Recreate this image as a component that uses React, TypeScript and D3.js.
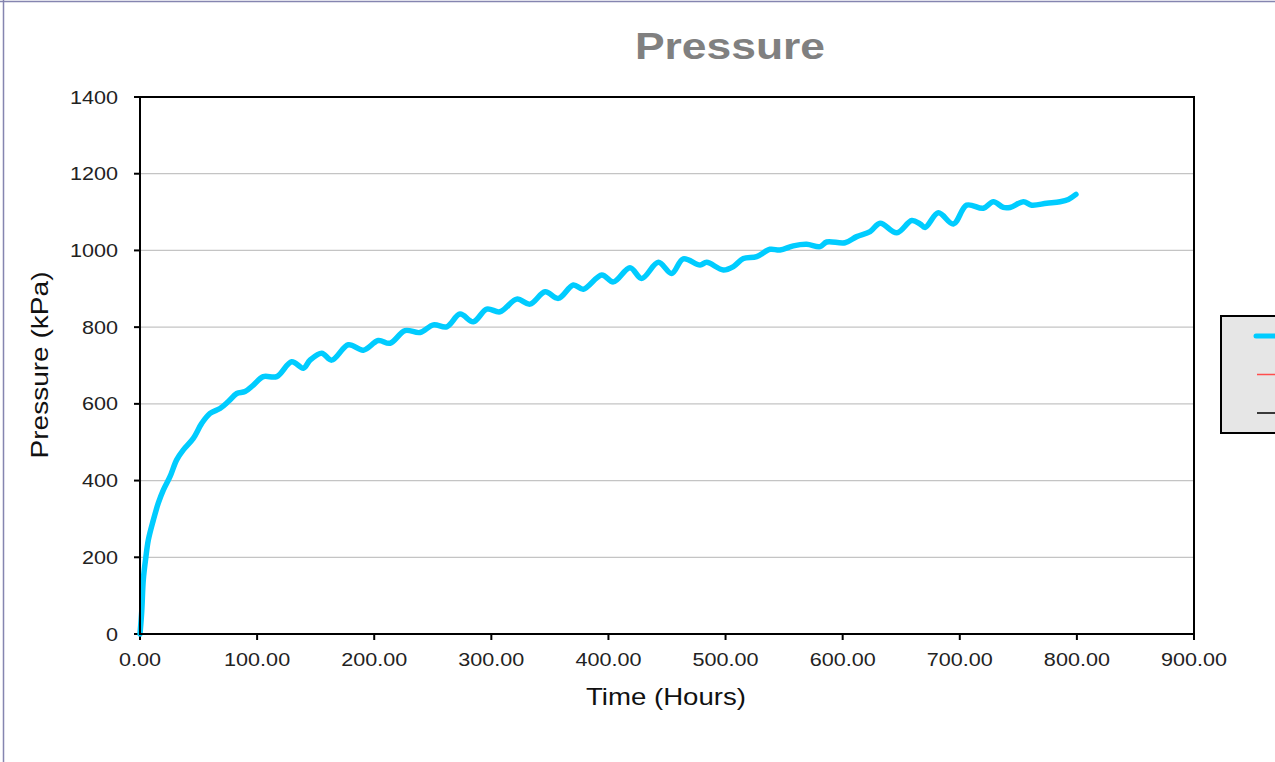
import React, { useEffect, useRef } from 'react';
import * as d3 from 'd3';

// values
const hours = [
  0, 1.5, 2.8, 5, 7.1, 11.4, 15.6, 19.9, 25.6, 31.3,
  37, 45.5, 52.7, 59.8, 68.3, 75.4, 82.6, 89.7, 96.8, 105.3,
  116.7, 129.5, 139.5, 145.2, 155.2, 163.7, 177.9, 190.7, 203.5, 213.5,
  226.3, 239.1, 250.5, 261.9, 273.3, 284.6, 296.1, 307.4, 321.7, 333,
  345.9, 357.2, 370, 378.6, 394.3, 404.2, 418.4, 428.4, 442.6, 454,
  463.9, 478.2, 483.9, 498.1, 506.7, 515.2, 526.6, 538, 546.5, 557.9,
  569.3, 580.7, 586.4, 602, 612, 623.4, 632, 646.2, 659, 666.1,
  670.4, 681.7, 694.5, 705.9, 720.1, 728.7, 737.2, 742.9, 754.3, 761.4,
  774.2, 785.6, 792.7, 799.2
];
const pressure = [
  0, 60, 141, 200, 245, 297, 341, 375, 410, 454,
  480, 510, 549, 575, 588, 606, 627, 632, 649, 671,
  671, 710, 693, 714, 732, 714, 754, 740, 765, 758,
  791, 786, 806, 801, 834, 814, 847, 840, 873, 860,
  892, 875, 910, 899, 936, 918, 955, 927, 969, 940,
  978, 962, 969, 949, 958, 979, 984, 1003, 1001, 1012,
  1016, 1010, 1022, 1020, 1036, 1049, 1071, 1046, 1078, 1069,
  1060, 1098, 1069, 1118, 1110, 1127, 1112, 1112, 1127, 1118,
  1123, 1127, 1133, 1146
];
const xTicks = [0, 100, 200, 300, 400, 500, 600, 700, 800, 900];
const yTicks = [0, 200, 400, 600, 800, 1000, 1200, 1400];
const legendColors = ['#00ccff', '#ff4d4d', '#000000'];

const W = 1275;
const H = 762;
const left = 140, right = 1194, top = 97, bottom = 634;
const stretch = 1.2; // text in the picture is drawn a bit wide
const font = '"Liberation Sans", Arial, sans-serif';

export default function App() {
  const ref = useRef<SVGSVGElement>(null);

  useEffect(() => {
    const svg = d3.select(ref.current);
    svg.selectAll('*').remove();

    svg.append('rect').attr('width', W).attr('height', H).attr('fill', '#fff');
    // outer frame of the picture
    svg.append('line').attr('x1', 3.5).attr('x2', 3.5).attr('y1', 0).attr('y2', H)
      .attr('stroke', '#8585b0').attr('stroke-width', 1.5);
    svg.append('line').attr('x1', 0).attr('x2', W).attr('y1', 1.5).attr('y2', 1.5)
      .attr('stroke', '#8585b0').attr('stroke-width', 1.5);

    const x = d3.scaleLinear().domain([0, 900]).range([left, right]);
    const y = d3.scaleLinear().domain([0, 1400]).range([bottom, top]);

    // gridlines
    svg.append('g').selectAll('line')
      .data(yTicks.filter(d => d > 0 && d < 1400))
      .join('line')
      .attr('x1', left).attr('x2', right)
      .attr('y1', d => y(d)).attr('y2', d => y(d))
      .attr('stroke', '#c4c4c4').attr('stroke-width', 1.2);

    // tick marks
    svg.append('g').selectAll('line')
      .data(yTicks)
      .join('line')
      .attr('x1', left - 6).attr('x2', left)
      .attr('y1', d => y(d)).attr('y2', d => y(d))
      .attr('stroke', '#000').attr('stroke-width', 2);
    svg.append('g').selectAll('line')
      .data(xTicks)
      .join('line')
      .attr('x1', d => x(d)).attr('x2', d => x(d))
      .attr('y1', bottom).attr('y2', bottom + 6)
      .attr('stroke', '#000').attr('stroke-width', 2);

    // tick labels
    svg.append('g').selectAll('g')
      .data(yTicks)
      .join('g')
      .attr('transform', d => `translate(118,${y(d) + 6.5}) scale(${stretch},1)`)
      .append('text')
      .attr('text-anchor', 'end')
      .attr('font-family', font).attr('font-size', 18).attr('fill', '#222')
      .text(d => d);
    svg.append('g').selectAll('g')
      .data(xTicks)
      .join('g')
      .attr('transform', d => `translate(${x(d)},666) scale(${stretch},1)`)
      .append('text')
      .attr('text-anchor', 'middle')
      .attr('font-family', font).attr('font-size', 18).attr('fill', '#222')
      .text(d => d3.format('.2f')(d));

    // the series
    const points = hours.map((h, i) => [h, pressure[i]] as [number, number]);
    const line = d3.line()
      .x(d => x(d[0]))
      .y(d => y(d[1]))
      .curve(d3.curveCatmullRom.alpha(0.5));
    svg.append('path')
      .attr('d', line(points))
      .attr('fill', 'none')
      .attr('stroke', '#00ccff')
      .attr('stroke-width', 5.5)
      .attr('stroke-linejoin', 'round')
      .attr('stroke-linecap', 'round');

    // plot frame
    svg.append('rect')
      .attr('x', left).attr('y', top)
      .attr('width', right - left).attr('height', bottom - top)
      .attr('fill', 'none').attr('stroke', '#000').attr('stroke-width', 2);

    // titles
    svg.append('g')
      .attr('transform', `translate(730,59) scale(${stretch},1)`)
      .append('text')
      .attr('text-anchor', 'middle')
      .attr('font-family', font).attr('font-size', 37).attr('font-weight', 'bold')
      .attr('fill', '#808080')
      .text('Pressure');
    svg.append('g')
      .attr('transform', `translate(666,705) scale(${stretch},1)`)
      .append('text')
      .attr('text-anchor', 'middle')
      .attr('font-family', font).attr('font-size', 23).attr('fill', '#111')
      .text('Time (Hours)');
    svg.append('g')
      .attr('transform', `translate(48,365) rotate(-90) scale(1.22,1)`)
      .append('text')
      .attr('text-anchor', 'middle')
      .attr('font-family', font).attr('font-size', 23).attr('fill', '#111')
      .text('Pressure (kPa)');

    // legend box (cut off by the picture edge)
    const lg = svg.append('g');
    lg.append('rect')
      .attr('x', 1221).attr('y', 316).attr('width', 120).attr('height', 117)
      .attr('fill', '#e6e6e6').attr('stroke', '#000').attr('stroke-width', 2);
    lg.selectAll('line')
      .data(legendColors)
      .join('line')
      .attr('x1', (d, i) => (i === 0 ? 1256 : 1257)).attr('x2', 1300)
      .attr('y1', (d, i) => 336 + i * 38.5).attr('y2', (d, i) => 336 + i * 38.5)
      .attr('stroke', d => d)
      .attr('stroke-width', (d, i) => (i === 0 ? 5 : 1.3))
      .attr('stroke-linecap', (d, i) => (i === 0 ? 'round' : 'butt'));
  }, []);

  return (
    <div style={{ position: 'absolute', left: 0, top: 0 }}>
      <svg ref={ref} width={W} height={H} style={{ display: 'block' }} />
    </div>
  );
}
